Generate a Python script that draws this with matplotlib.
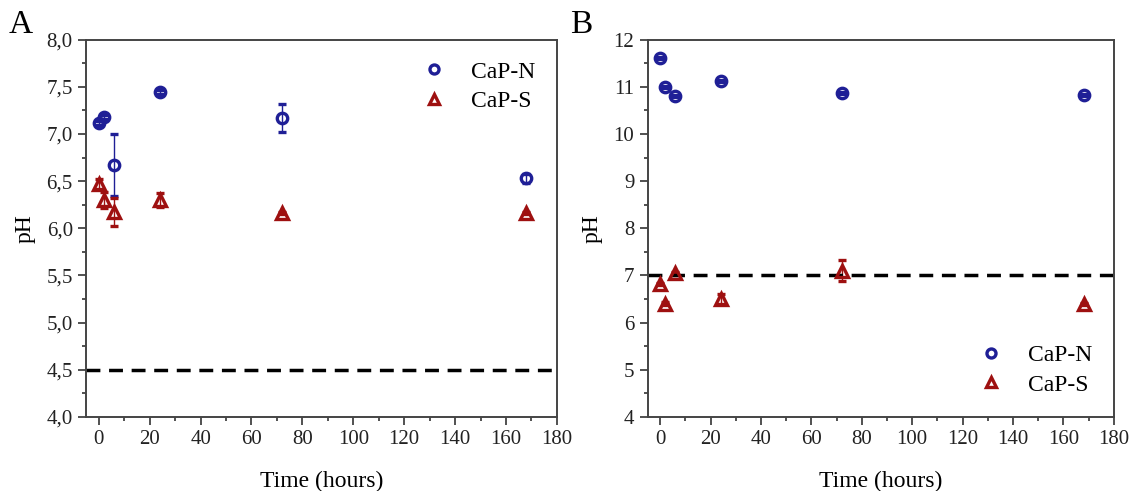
import matplotlib
matplotlib.use("Agg")
import matplotlib.pyplot as plt
from matplotlib.lines import Line2D
from matplotlib.ticker import MultipleLocator, FuncFormatter

plt.rcParams['font.family'] = ['Liberation Serif', 'DejaVu Serif']

# time points (hours)
time = [0, 2, 6, 24, 72, 168]

# panel A
a_n = [7.12, 7.18, 6.67, 7.45, 7.17, 6.53]
a_n_err = [0.02, 0.02, 0.33, 0.02, 0.15, 0.05]
a_s = [6.47, 6.30, 6.17, 6.30, 6.16, 6.16]
a_s_err = [0.05, 0.08, 0.15, 0.07, 0.01, 0.01]
a_ref = 4.5

# panel B
b_n = [11.62, 11.0, 10.8, 11.12, 10.87, 10.83]
b_n_err = [0.02, 0.02, 0.02, 0.02, 0.03, 0.02]
b_s = [6.82, 6.40, 7.05, 6.50, 7.10, 6.40]
b_s_err = [0.03, 0.03, 0.03, 0.10, 0.22, 0.02]
b_ref = 7.0

blue = "#1f1f96"
red = "#9e1010"

fig = plt.figure(figsize=(11.32, 4.91), dpi=100)
axA = fig.add_axes([0.076, 0.151, 0.416, 0.768])
axB = fig.add_axes([0.572, 0.151, 0.412, 0.768])


def draw(ax, n, n_err, s, s_err, ref, ylim, major, minor, fmt, loc, label):
    ax.errorbar(time, n, yerr=n_err, fmt='o', mfc='none', mec=blue, mew=2.4,
                ms=7.5, ecolor=blue, elinewidth=1, capsize=3)
    ax.errorbar(time, s, yerr=s_err, fmt='^', mfc='none', mec=red, mew=2.4,
                ms=8.5, ecolor=red, elinewidth=1, capsize=3)
    ax.axhline(ref, color='black', lw=2.5, ls=(0, (4, 2.5)))
    ax.set_xlim(-5, 180)
    ax.set_ylim(*ylim)
    ax.xaxis.set_major_locator(MultipleLocator(20))
    ax.xaxis.set_minor_locator(MultipleLocator(10))
    ax.yaxis.set_major_locator(MultipleLocator(major))
    ax.yaxis.set_minor_locator(MultipleLocator(minor))
    ax.yaxis.set_major_formatter(FuncFormatter(fmt))
    ax.tick_params(which='both', direction='out', colors='#333333', labelcolor='#222222',
                   labelsize=15)
    ax.tick_params(which='major', length=6, width=1.2)
    ax.tick_params(which='minor', length=3, width=1.2)
    for sp in ax.spines.values():
        sp.set_linewidth(1.4)
        sp.set_color('#444444')
    ax.set_xlabel("Time (hours)", fontsize=17, labelpad=16)
    ax.set_ylabel("pH", fontsize=17, labelpad=8)
    handles = [
        Line2D([], [], ls='none', marker='o', mfc='none', mec=blue, mew=2.4, ms=6.5),
        Line2D([], [], ls='none', marker='^', mfc='none', mec=red, mew=2.4, ms=7.5),
    ]
    ax.legend(handles, ["CaP-N", "CaP-S"], loc=loc, frameon=False, fontsize=17,
              handlelength=1.4, handletextpad=0.9, labelspacing=0.35)
    ax.text(-0.165, 1.04, label, transform=ax.transAxes, fontsize=24, va='center')


draw(axA, a_n, a_n_err, a_s, a_s_err, a_ref, (4.0, 8.0), 0.5, 0.25,
     lambda v, p: f"{v:.1f}".replace(".", ","), 'upper right', "A")
draw(axB, b_n, b_n_err, b_s, b_s_err, b_ref, (4, 12), 1, 0.5,
     lambda v, p: f"{v:.0f}", 'lower right', "B")

fig.savefig("out.png", dpi=100)
